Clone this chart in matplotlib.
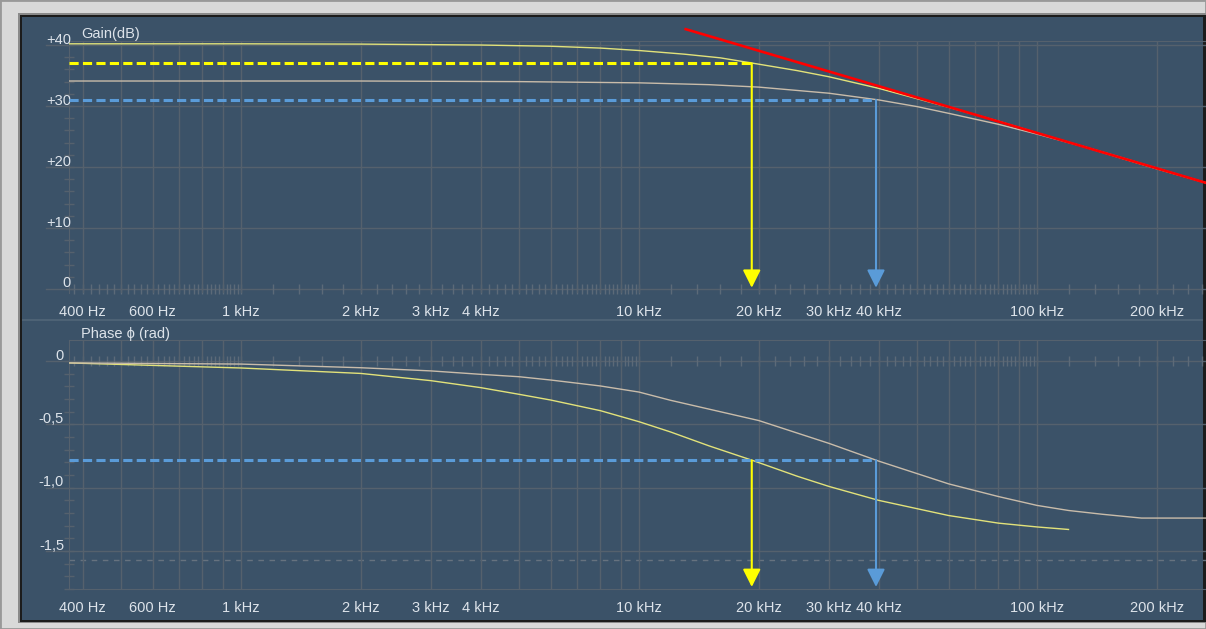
import numpy as np
import matplotlib
matplotlib.use("Agg")
import matplotlib.pyplot as plt
from matplotlib.patches import Rectangle
from matplotlib.transforms import blended_transform_factory, offset_copy

# values
f_yel_gain = [370, 1000, 2000, 4000, 6000, 8000, 10000, 13000, 16000, 19000, 25000,
              30000, 40000, 50000, 60000, 80000, 100000, 130000, 160000, 200000, 266000]
yel_gain = [40.2, 40.2, 40.15, 40.0, 39.8, 39.5, 39.1, 38.5, 37.9, 37.1, 35.8,
            34.8, 32.9, 31.2, 29.8, 27.5, 25.6, 23.4, 21.6, 19.7, 17.4]

f_gry_gain = [370, 2000, 5000, 10000, 15000, 20000, 30000, 40000, 50000, 60000,
              80000, 100000, 130000, 160000, 200000, 266000]
gry_gain = [34.1, 34.1, 34.0, 33.8, 33.5, 33.1, 32.1, 31.0, 29.9, 28.8,
            27.0, 25.4, 23.4, 21.7, 19.8, 17.4]

f_gbw = [13100, 266000]
gbw_gain = [42.6, 17.4]

f_yel_phase = [370, 1000, 2000, 3000, 4000, 5000, 6000, 7000, 8000, 10000, 12000,
               15000, 19300, 25000, 30000, 40000, 60000, 80000, 100000, 120000]
yel_phase = [-0.015, -0.055, -0.098, -0.155, -0.21, -0.263, -0.308, -0.353, -0.392, -0.479, -0.56,
             -0.67, -0.785, -0.91, -0.99, -1.10, -1.22, -1.28, -1.31, -1.33]

f_gry_phase = [370, 1000, 2000, 3000, 4000, 5000, 6000, 8000, 10000, 12000, 20000,
               30000, 40000, 60000, 80000, 100000, 120000, 146000, 183000, 266000]
gry_phase = [-0.015, -0.024, -0.053, -0.078, -0.105, -0.124, -0.15, -0.197, -0.245, -0.31, -0.47,
             -0.65, -0.79, -0.97, -1.07, -1.14, -1.18, -1.21, -1.24, -1.24]

fc_yel = 19200
fc_blu = 39400
gain_3db_yel = 37.0
gain_3db_blu = 31.0
phase_45 = -0.785

tick_freqs = [400, 600, 1000, 2000, 3000, 4000, 10000, 20000, 30000, 40000, 100000, 200000]
tick_names = ["400 Hz", "600 Hz", "1 kHz", "2 kHz", "3 kHz", "4 kHz", "10 kHz",
              "20 kHz", "30 kHz", "40 kHz", "100 kHz", "200 kHz"]
gain_ticks = [40, 30, 20, 10, 0]
gain_names = ["+40", "+30", "+20", "+10", "0"]
phase_ticks = [0, -0.5, -1.0, -1.5]
phase_names = ["0", "-0,5", "-1,0", "-1,5"]

plt.rcParams["font.family"] = ["Liberation Sans", "DejaVu Sans"]

W, H = 1206, 629
BG = "#3b5268"
GRID = "#55616d"
TXT = "#dde3ea"
YEL = "#ffff00"
BLU = "#5a9bd8"

fig = plt.figure(figsize=(W / 100, H / 100), dpi=100)
fig.patch.set_facecolor("#d9d9d9")


def box(x0, y0, x1, y1, color, **kw):
    fig.patches.append(Rectangle((x0 / W, 1 - y1 / H), (x1 - x0) / W, (y1 - y0) / H,
                                 transform=fig.transFigure, facecolor=color,
                                 zorder=-10, **kw))


# window frame
box(0, 0, W, H, "none", edgecolor="#999999", linewidth=2)
box(18, 13, W, 623, "#8a8a8a", edgecolor="none")
box(20, 15, W, 622, "#1c1c1c", edgecolor="none")
box(22, 17, W - 3, 620, BG, edgecolor="none")
box(22, 319, W - 3, 321, "#4d6275", edgecolor="none")

xmin = 1000 * 10 ** ((69 - 241) / 398)
xmax = 1000 * 10 ** ((1206 - 241) / 398)
grid_f = [f for d in (100, 1000, 10000, 100000) for f in np.arange(1, 10) * d
          if 390 < f < xmax]
small_f = [f for d in (100, 1000, 10000, 100000) for f in np.arange(1, 10, 0.2) * d
           if xmin < f < xmax]


def setup(ax, ylo, yhi, yminor, hlines, tick_h):
    ax.set_facecolor("none")
    ax.set_xscale("log")
    ax.set_xlim(xmin, xmax)
    ax.set_ylim(ylo, yhi)
    ax.set_xticks(tick_freqs, tick_names)
    ax.set_xticks(grid_f, minor=True)
    ax.xaxis.set_minor_formatter(matplotlib.ticker.NullFormatter())
    ax.tick_params(axis="x", which="both", length=0, pad=9, labelsize=10.5, labelcolor=TXT)
    ax.grid(axis="x", which="both", color=GRID, linewidth=1)
    ax.set_yticks(yminor)
    ax.set_yticklabels([])
    ax.tick_params(axis="y", direction="inout", length=6.5, width=1, color=GRID)
    for s in ax.spines.values():
        s.set_color(GRID)
    ax.spines["right"].set_visible(False)
    for v in hlines:
        ax.axhline(v, xmin=-0.02, color=GRID, linewidth=1, clip_on=False, zorder=1)
    ax.vlines(small_f, hlines[-1] - tick_h, hlines[-1] + tick_h, color="#5c6a78",
              linewidth=1, zorder=1, clip_on=False)


# gain panel
ax1 = fig.add_axes([69 / W, 1 - 293 / H, 1137 / W, 252 / H])
setup(ax1, -0.656, 40.66, np.arange(0, 41, 2), [40, 30, 20, 10, 0], 0.82)
ax1.spines["bottom"].set_visible(False)

# phase panel
ax2 = fig.add_axes([69 / W, 1 - 589 / H, 1137 / W, 249 / H])
setup(ax2, -1.80, 0.166, np.arange(-1.8, 0.01, 0.1), [-0.5, -1.0, -1.5, 0], 0.039)
ax2.axhline(-np.pi / 2, color="#66727f", linewidth=1, dashes=(4, 4), zorder=1)

# y labels
for ax, vals, names, xr in ((ax1, gain_ticks, gain_names, 71), (ax2, phase_ticks, phase_names, 64)):
    tr = offset_copy(blended_transform_factory(ax.transAxes, ax.transData), fig=fig,
                     y=1.5, units="dots")
    for v, n in zip(vals, names):
        ax.text((xr - 69) / 1137, v, n, transform=tr, ha="right", va="baseline",
                fontsize=10.5, color=TXT, clip_on=False)

fig.text(81 / W, 1 - 38 / H, "Gain(dB)", fontsize=10.5, color=TXT, va="baseline")
fig.text(81 / W, 1 - 338 / H, "Phase ϕ (rad)", fontsize=10.5, color=TXT, va="baseline")

# gain curves
ax1.plot(f_yel_gain, yel_gain, color="#e2e27a", linewidth=1.0, zorder=3)
ax1.plot(f_gry_gain, gry_gain, color="#c9bcaa", linewidth=1.0, zorder=3)
ax1.plot(f_gbw, gbw_gain, color="#ff0000", linewidth=1.9, zorder=4, clip_on=False)
ax1.plot([xmin, fc_yel], [gain_3db_yel] * 2, color=YEL, linewidth=2.2, dashes=(3, 1.4), zorder=4)
ax1.plot([xmin, fc_blu], [gain_3db_blu] * 2, color=BLU, linewidth=2.2, dashes=(3, 1.4), zorder=4)

# phase curves
ax2.plot(f_yel_phase, yel_phase, color="#e2e27a", linewidth=1.0, zorder=3)
ax2.plot(f_gry_phase, gry_phase, color="#c9bcaa", linewidth=1.0, zorder=3)
ax2.plot([xmin, fc_blu], [phase_45] * 2, color=BLU, linewidth=2.2, dashes=(3, 1.4), zorder=4)

# arrows down to the frequency axis
arrow = dict(arrowstyle="-|>,head_length=0.9,head_width=0.45", mutation_scale=12,
             linewidth=1.5, shrinkA=0, shrinkB=0)
for ax, y0, tip in ((ax1, gain_3db_yel, 0.2), (ax2, phase_45, -1.784)):
    ax.annotate("", xy=(fc_yel, tip), xytext=(fc_yel, y0),
                arrowprops=dict(arrow, color=YEL), zorder=5)
for ax, y0, tip in ((ax1, gain_3db_blu, 0.2), (ax2, phase_45, -1.784)):
    ax.annotate("", xy=(fc_blu, tip), xytext=(fc_blu, y0),
                arrowprops=dict(arrow, color=BLU), zorder=5)

fig.savefig("out.png", dpi=100, facecolor=fig.get_facecolor())
